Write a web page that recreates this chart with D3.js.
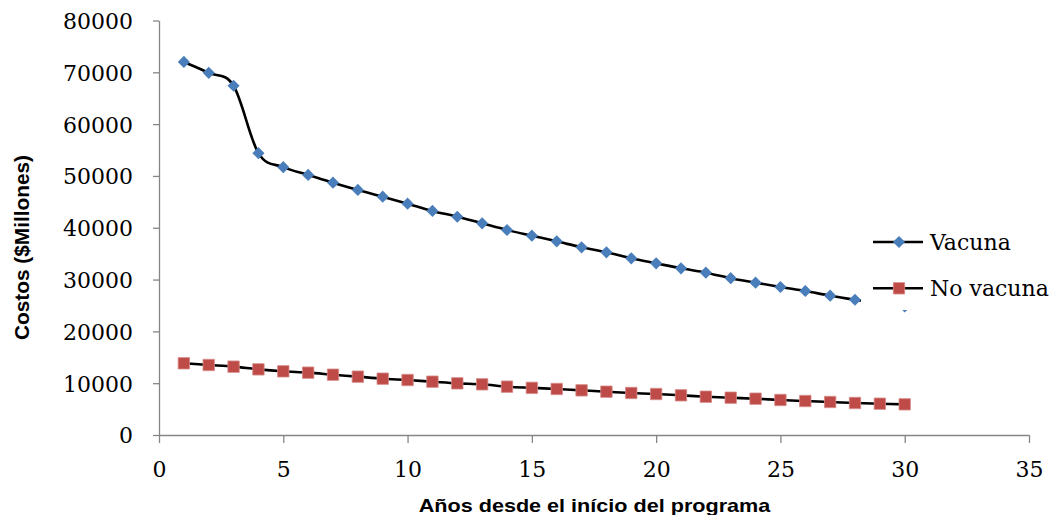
<!DOCTYPE html>
<html>
<head>
<meta charset="utf-8">
<script src="https://cdn.jsdelivr.net/npm/d3@7"></script>
<style>
  html, body { margin: 0; padding: 0; background: #fff; }
  svg { display: block; }
</style>
</head>
<body>
<svg id="chart" width="1053" height="515"></svg>
<script>
// Program years
const years = d3.range(1, 31);

// Costs in millions, with the vaccine programme
const vacuna = [72000, 69900, 67400, 54400, 51700, 50200, 48700, 47300, 46000, 44650,
                43250, 42130, 40850, 39570, 38470, 37380, 36220, 35260, 34100, 33130,
                32170, 31330, 30270, 29400, 28560, 27790, 26890, 26110, 25400, 24800];

// Costs in millions, without the vaccine
const noVacuna = [13840, 13510, 13190, 12670, 12290, 12030, 11640, 11260, 10870, 10610,
                  10290, 9970, 9780, 9330, 9100, 8880, 8620, 8360, 8110, 7910,
                  7660, 7390, 7200, 7010, 6760, 6560, 6370, 6180, 6040, 5920];

const xTicks = [0, 5, 10, 15, 20, 25, 30, 35];
const yTicks = [0, 10000, 20000, 30000, 40000, 50000, 60000, 70000, 80000];
const seriesNames = ["Vacuna", "No vacuna"];

const svg = d3.select("#chart");
const axisColor = "#868686";
const serif = "'DejaVu Serif', serif";
const sans = "'Liberation Sans', Arial, sans-serif";

const x = d3.scaleLinear().domain([0, 35]).range([159, 1029]);
const y = d3.scaleLinear().domain([0, 80000]).range([435, 20.5]);

// Y axis
const yAxis = svg.append("g")
  .attr("transform", `translate(${x(0)},0)`)
  .call(d3.axisLeft(y).tickValues(yTicks).tickSize(6).tickSizeOuter(0).tickPadding(20).tickFormat(d3.format("d")));
yAxis.select(".domain").attr("stroke", axisColor).attr("stroke-width", 1.3);
yAxis.selectAll(".tick line").attr("stroke", axisColor).attr("stroke-width", 1.3);
yAxis.selectAll(".tick text")
  .attr("fill", "#000").attr("font-family", serif).attr("font-size", 22).attr("dy", "0.36em");

// X axis
const xAxis = svg.append("g")
  .attr("transform", `translate(0,${y(0)})`)
  .call(d3.axisBottom(x).tickValues(xTicks).tickSize(8).tickSizeOuter(0).tickPadding(0).tickFormat(d3.format("d")));
xAxis.select(".domain").attr("stroke", axisColor).attr("stroke-width", 1.3);
xAxis.selectAll(".tick line").attr("stroke", axisColor).attr("stroke-width", 1.3);
xAxis.selectAll(".tick text")
  .attr("fill", "#000").attr("font-family", serif).attr("font-size", 22)
  .attr("y", 42).attr("dy", 0);

// Axis titles
svg.append("text")
  .attr("transform", "translate(594.5,512) scale(1.2,1)")
  .attr("text-anchor", "middle")
  .attr("font-family", sans).attr("font-weight", "bold").attr("font-size", 18)
  .text("Años desde el início del programa");

svg.append("text")
  .attr("transform", "translate(29,247.5) rotate(-90)")
  .attr("text-anchor", "middle")
  .attr("font-family", sans).attr("font-weight", "bold").attr("font-size", 20.8)
  .text("Costos ($Millones)");

// Series
const line = d3.line()
  .x((d, i) => x(years[i]))
  .y(d => y(d))
  .curve(d3.curveCatmullRom.alpha(0));

const series = [
  { name: seriesNames[0], values: vacuna, color: "#4A7EBB", shape: "diamond" },
  { name: seriesNames[1], values: noVacuna, color: "#BE4B48", shape: "square" }
];

const diamond = d3.symbol(d3.symbolSquare, 74)();
const square = d3.symbol(d3.symbolSquare, 130)();

function drawMarker(sel, shape, color) {
  if (shape === "diamond") {
    sel.append("path").attr("d", diamond).attr("fill", color)
      .attr("transform", function () { return (d3.select(this).attr("transform") || "") + " rotate(45)"; });
  } else {
    sel.append("path").attr("d", square).attr("fill", color)
      .attr("stroke", "#d58b89").attr("stroke-width", 0.8);
  }
}

series.forEach(s => {
  svg.append("path")
    .attr("d", line(s.values))
    .attr("fill", "none").attr("stroke", "#000").attr("stroke-width", 2.6);
  const g = svg.append("g");
  s.values.forEach((v, i) => {
    const m = g.append("g").attr("transform", `translate(${x(years[i])},${y(v)})`);
    drawMarker(m, s.shape, s.color);
  });
});

// Legend, drawn on a white panel over the plot
const legend = svg.append("g");
legend.append("rect")
  .attr("x", 861).attr("y", 215).attr("width", 192).attr("height", 95)
  .attr("fill", "#fff");
series.forEach((s, i) => {
  const cy = 242 + i * 46.3;
  legend.append("line")
    .attr("x1", 873).attr("x2", 923).attr("y1", cy).attr("y2", cy)
    .attr("stroke", "#000").attr("stroke-width", 2.6);
  const m = legend.append("g").attr("transform", `translate(899,${cy})`);
  drawMarker(m, s.shape, s.color);
  legend.append("text")
    .attr("x", 930).attr("y", cy + 7.5)
    .attr("font-family", serif).attr("font-size", 22).attr("fill", "#000")
    .text(s.name);
});
</script>
</body>
</html>
